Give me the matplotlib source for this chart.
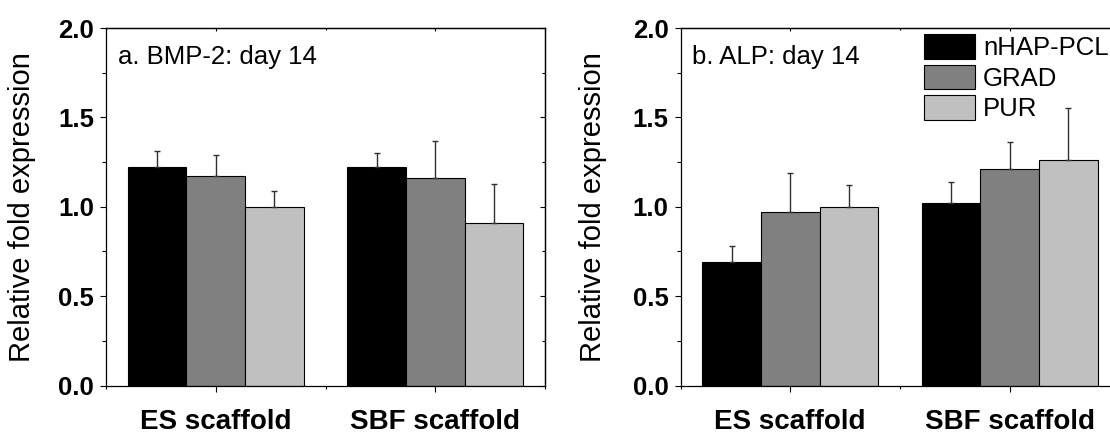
import matplotlib
matplotlib.use('Agg')
import matplotlib.pyplot as plt
from matplotlib.ticker import MultipleLocator, FixedLocator, NullFormatter
import numpy as np

plt.rcParams['font.family'] = ['Liberation Sans', 'DejaVu Sans']

# datos
groups = ['ES scaffold', 'SBF scaffold']
series = ['nHAP-PCL', 'GRAD', 'PUR']
colors = ['#000000', '#808080', '#c0c0c0']

bmp_mean = {'nHAP-PCL': [1.22, 1.22], 'GRAD': [1.17, 1.16], 'PUR': [1.00, 0.91]}
bmp_err = {'nHAP-PCL': [0.09, 0.08], 'GRAD': [0.12, 0.21], 'PUR': [0.09, 0.22]}

alp_mean = {'nHAP-PCL': [0.69, 1.02], 'GRAD': [0.97, 1.21], 'PUR': [1.00, 1.26]}
alp_err = {'nHAP-PCL': [0.09, 0.12], 'GRAD': [0.22, 0.15], 'PUR': [0.12, 0.29]}

W, H = 1110, 434
fig = plt.figure(figsize=(W / 100, H / 100), dpi=100)

ax1 = fig.add_axes([106 / W, 1 - 385.5 / H, 439 / W, 357.5 / H])
ax2 = fig.add_axes([680.5 / W, 1 - 385.5 / H, 439 / W, 357.5 / H])

bw = 0.8 / 3
xpos = np.arange(1, len(groups) + 1)


def panel(ax, means, errs, title, ylab_x):
    for k, s in enumerate(series):
        xs = xpos + (k - 1) * bw
        ax.bar(xs, means[s], bw, color=colors[k], edgecolor='black', linewidth=0.8,
               label=s, zorder=2)
        ax.errorbar(xs, means[s], yerr=[np.zeros(len(xs)), errs[s]], fmt='none',
                    ecolor='#303030', elinewidth=1.0, capsize=2.2, capthick=1.0, zorder=3)
    ax.set_xlim(0.5, 2.5)
    ax.set_ylim(0, 2.0)
    ax.yaxis.set_major_locator(MultipleLocator(0.5))
    ax.yaxis.set_minor_locator(MultipleLocator(0.25))
    ax.xaxis.set_major_locator(FixedLocator(list(xpos)))
    ax.xaxis.set_minor_locator(FixedLocator([0.5, 1.5, 2.5]))
    ax.set_xticklabels(groups, fontsize=20, fontweight='bold')
    ax.set_yticks([0, 0.5, 1.0, 1.5, 2.0])
    ax.set_yticklabels(['0.0', '0.5', '1.0', '1.5', '2.0'], fontsize=18.5, fontweight='bold')
    ax.tick_params(axis='y', which='major', direction='out', length=4.5, width=0.8, pad=4)
    ax.tick_params(axis='y', which='minor', direction='out', length=2.8, width=0.8)
    ax.tick_params(axis='x', which='major', direction='out', length=4.5, width=0.8, pad=12.5)
    ax.tick_params(axis='x', which='minor', direction='out', length=2.5, width=0.8)
    for sp in ax.spines.values():
        sp.set_linewidth(0.9)

    # ticks espejo hacia dentro (derecha y arriba)
    r = ax.secondary_yaxis('right')
    r.yaxis.set_major_locator(MultipleLocator(0.5))
    r.yaxis.set_minor_locator(MultipleLocator(0.25))
    r.yaxis.set_major_formatter(NullFormatter())
    r.tick_params(which='major', direction='in', length=3.5, width=0.8)
    r.tick_params(which='minor', direction='in', length=2.2, width=0.8)
    r.spines['right'].set_linewidth(0.9)
    t = ax.secondary_xaxis('top')
    t.xaxis.set_major_locator(FixedLocator(list(xpos)))
    t.xaxis.set_minor_locator(FixedLocator([0.5, 1.5, 2.5]))
    t.xaxis.set_major_formatter(NullFormatter())
    t.tick_params(which='major', direction='in', length=2.5, width=0.8)
    t.tick_params(which='minor', direction='in', length=1.5, width=0.8)
    t.spines['top'].set_linewidth(0.9)

    ax.set_ylabel('Relative fold expression', fontsize=21)
    ax.yaxis.set_label_coords(ylab_x, 0.5)
    ax.text(0.027, 0.90, title, transform=ax.transAxes, fontsize=18.5, va='baseline')


panel(ax1, bmp_mean, bmp_err, 'a. BMP-2: day 14', -0.159)
panel(ax2, alp_mean, alp_err, 'b. ALP: day 14', -0.167)

ax2.legend(loc='upper left', bbox_to_anchor=(924 / W, 1 - 34 / H),
           bbox_transform=fig.transFigure, frameon=False, fontsize=18.5,
           handlelength=2.0, handleheight=1.1, handletextpad=0.3,
           labelspacing=0.18, borderpad=0, borderaxespad=0)

fig.savefig('out.png', dpi=100)
